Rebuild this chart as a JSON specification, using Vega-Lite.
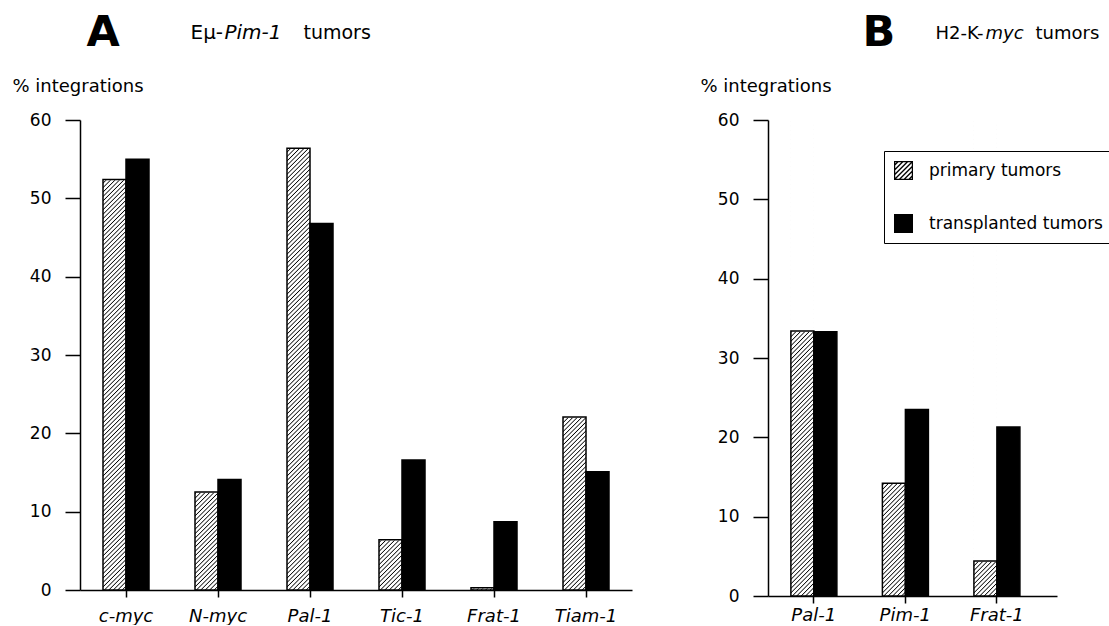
{
"$schema":"https://vega.github.io/schema/vega-lite/v6.json",
"background":"white",
"padding":{"left":12,"top":11,"right":0,"bottom":0},
"bounds":"flush",
"spacing":136,
"datasets":{
"a":[
{"gene":"c-myc","type":"primary tumors","value":52.4},{"gene":"c-myc","type":"transplanted tumors","value":55.0},
{"gene":"N-myc","type":"primary tumors","value":12.5},{"gene":"N-myc","type":"transplanted tumors","value":14.1},
{"gene":"Pal-1","type":"primary tumors","value":56.4},{"gene":"Pal-1","type":"transplanted tumors","value":46.8},
{"gene":"Tic-1","type":"primary tumors","value":6.4},{"gene":"Tic-1","type":"transplanted tumors","value":16.6},
{"gene":"Frat-1","type":"primary tumors","value":0.3},{"gene":"Frat-1","type":"transplanted tumors","value":8.7},
{"gene":"Tiam-1","type":"primary tumors","value":22.1},{"gene":"Tiam-1","type":"transplanted tumors","value":15.1}],
"b":[
{"gene":"Pal-1","type":"primary tumors","value":33.4},{"gene":"Pal-1","type":"transplanted tumors","value":33.3},
{"gene":"Pim-1","type":"primary tumors","value":14.2},{"gene":"Pim-1","type":"transplanted tumors","value":23.5},
{"gene":"Frat-1","type":"primary tumors","value":4.4},{"gene":"Frat-1","type":"transplanted tumors","value":21.3}]
},
"hconcat":[
{
"width":552,"height":470,
"data":{"name":"a"},
"resolve":{"axis":{"x":"independent","y":"independent"}},
"layer":[
{"transform":[{"filter":"datum.type == 'primary tumors'"}],
"mark":{"type":"bar","fill":{"gradient":"linear","x1":0,"y1":0,"x2":0.0512,"y2":1.0464,"stops":[
{"offset":0,"color":"#fff"},{"offset":0.0022,"color":"#000"},{"offset":0.0044,"color":"#fff"},
{"offset":0.009,"color":"#fff"},{"offset":0.0112,"color":"#000"},{"offset":0.0134,"color":"#fff"},
{"offset":0.018,"color":"#fff"},{"offset":0.0202,"color":"#000"},{"offset":0.0224,"color":"#fff"},
{"offset":0.027,"color":"#fff"},{"offset":0.0292,"color":"#000"},{"offset":0.0314,"color":"#fff"},
{"offset":0.036,"color":"#fff"},{"offset":0.0382,"color":"#000"},{"offset":0.0404,"color":"#fff"},
{"offset":0.045,"color":"#fff"},{"offset":0.0472,"color":"#000"},{"offset":0.0494,"color":"#fff"},
{"offset":0.054,"color":"#fff"},{"offset":0.0562,"color":"#000"},{"offset":0.0584,"color":"#fff"},
{"offset":0.063,"color":"#fff"},{"offset":0.0652,"color":"#000"},{"offset":0.0674,"color":"#fff"},
{"offset":0.072,"color":"#fff"},{"offset":0.0742,"color":"#000"},{"offset":0.0764,"color":"#fff"},
{"offset":0.081,"color":"#fff"},{"offset":0.0832,"color":"#000"},{"offset":0.0854,"color":"#fff"},
{"offset":0.09,"color":"#fff"},{"offset":0.0922,"color":"#000"},{"offset":0.0944,"color":"#fff"},
{"offset":0.099,"color":"#fff"},{"offset":0.1012,"color":"#000"},{"offset":0.1034,"color":"#fff"},
{"offset":0.108,"color":"#fff"},{"offset":0.1102,"color":"#000"},{"offset":0.1124,"color":"#fff"},
{"offset":0.117,"color":"#fff"},{"offset":0.1192,"color":"#000"},{"offset":0.1214,"color":"#fff"},
{"offset":0.126,"color":"#fff"},{"offset":0.1282,"color":"#000"},{"offset":0.1304,"color":"#fff"},
{"offset":0.135,"color":"#fff"},{"offset":0.1372,"color":"#000"},{"offset":0.1394,"color":"#fff"},
{"offset":0.144,"color":"#fff"},{"offset":0.1462,"color":"#000"},{"offset":0.1484,"color":"#fff"},
{"offset":0.153,"color":"#fff"},{"offset":0.1552,"color":"#000"},{"offset":0.1574,"color":"#fff"},
{"offset":0.162,"color":"#fff"},{"offset":0.1642,"color":"#000"},{"offset":0.1664,"color":"#fff"},
{"offset":0.171,"color":"#fff"},{"offset":0.1732,"color":"#000"},{"offset":0.1754,"color":"#fff"},
{"offset":0.18,"color":"#fff"},{"offset":0.1822,"color":"#000"},{"offset":0.1844,"color":"#fff"},
{"offset":0.189,"color":"#fff"},{"offset":0.1912,"color":"#000"},{"offset":0.1934,"color":"#fff"},
{"offset":0.198,"color":"#fff"},{"offset":0.2002,"color":"#000"},{"offset":0.2024,"color":"#fff"},
{"offset":0.207,"color":"#fff"},{"offset":0.2092,"color":"#000"},{"offset":0.2114,"color":"#fff"},
{"offset":0.216,"color":"#fff"},{"offset":0.2182,"color":"#000"},{"offset":0.2204,"color":"#fff"},
{"offset":0.225,"color":"#fff"},{"offset":0.2272,"color":"#000"},{"offset":0.2294,"color":"#fff"},
{"offset":0.234,"color":"#fff"},{"offset":0.2362,"color":"#000"},{"offset":0.2384,"color":"#fff"},
{"offset":0.243,"color":"#fff"},{"offset":0.2452,"color":"#000"},{"offset":0.2474,"color":"#fff"},
{"offset":0.252,"color":"#fff"},{"offset":0.2542,"color":"#000"},{"offset":0.2564,"color":"#fff"},
{"offset":0.261,"color":"#fff"},{"offset":0.2632,"color":"#000"},{"offset":0.2654,"color":"#fff"},
{"offset":0.27,"color":"#fff"},{"offset":0.2722,"color":"#000"},{"offset":0.2744,"color":"#fff"},
{"offset":0.279,"color":"#fff"},{"offset":0.2812,"color":"#000"},{"offset":0.2834,"color":"#fff"},
{"offset":0.288,"color":"#fff"},{"offset":0.2902,"color":"#000"},{"offset":0.2924,"color":"#fff"},
{"offset":0.297,"color":"#fff"},{"offset":0.2992,"color":"#000"},{"offset":0.3014,"color":"#fff"},
{"offset":0.306,"color":"#fff"},{"offset":0.3082,"color":"#000"},{"offset":0.3104,"color":"#fff"},
{"offset":0.315,"color":"#fff"},{"offset":0.3172,"color":"#000"},{"offset":0.3194,"color":"#fff"},
{"offset":0.324,"color":"#fff"},{"offset":0.3262,"color":"#000"},{"offset":0.3284,"color":"#fff"},
{"offset":0.333,"color":"#fff"},{"offset":0.3352,"color":"#000"},{"offset":0.3374,"color":"#fff"},
{"offset":0.342,"color":"#fff"},{"offset":0.3442,"color":"#000"},{"offset":0.3464,"color":"#fff"},
{"offset":0.351,"color":"#fff"},{"offset":0.3532,"color":"#000"},{"offset":0.3554,"color":"#fff"},
{"offset":0.36,"color":"#fff"},{"offset":0.3622,"color":"#000"},{"offset":0.3644,"color":"#fff"},
{"offset":0.369,"color":"#fff"},{"offset":0.3712,"color":"#000"},{"offset":0.3734,"color":"#fff"},
{"offset":0.378,"color":"#fff"},{"offset":0.3802,"color":"#000"},{"offset":0.3824,"color":"#fff"},
{"offset":0.387,"color":"#fff"},{"offset":0.3892,"color":"#000"},{"offset":0.3914,"color":"#fff"},
{"offset":0.396,"color":"#fff"},{"offset":0.3982,"color":"#000"},{"offset":0.4004,"color":"#fff"},
{"offset":0.405,"color":"#fff"},{"offset":0.4072,"color":"#000"},{"offset":0.4094,"color":"#fff"},
{"offset":0.414,"color":"#fff"},{"offset":0.4162,"color":"#000"},{"offset":0.4184,"color":"#fff"},
{"offset":0.423,"color":"#fff"},{"offset":0.4252,"color":"#000"},{"offset":0.4274,"color":"#fff"},
{"offset":0.432,"color":"#fff"},{"offset":0.4342,"color":"#000"},{"offset":0.4364,"color":"#fff"},
{"offset":0.441,"color":"#fff"},{"offset":0.4432,"color":"#000"},{"offset":0.4454,"color":"#fff"},
{"offset":0.45,"color":"#fff"},{"offset":0.4522,"color":"#000"},{"offset":0.4544,"color":"#fff"},
{"offset":0.459,"color":"#fff"},{"offset":0.4612,"color":"#000"},{"offset":0.4634,"color":"#fff"},
{"offset":0.468,"color":"#fff"},{"offset":0.4702,"color":"#000"},{"offset":0.4724,"color":"#fff"},
{"offset":0.477,"color":"#fff"},{"offset":0.4792,"color":"#000"},{"offset":0.4814,"color":"#fff"},
{"offset":0.486,"color":"#fff"},{"offset":0.4882,"color":"#000"},{"offset":0.4904,"color":"#fff"},
{"offset":0.495,"color":"#fff"},{"offset":0.4972,"color":"#000"},{"offset":0.4994,"color":"#fff"},
{"offset":0.504,"color":"#fff"},{"offset":0.5062,"color":"#000"},{"offset":0.5084,"color":"#fff"},
{"offset":0.513,"color":"#fff"},{"offset":0.5152,"color":"#000"},{"offset":0.5174,"color":"#fff"},
{"offset":0.522,"color":"#fff"},{"offset":0.5242,"color":"#000"},{"offset":0.5264,"color":"#fff"},
{"offset":0.531,"color":"#fff"},{"offset":0.5332,"color":"#000"},{"offset":0.5354,"color":"#fff"},
{"offset":0.54,"color":"#fff"},{"offset":0.5422,"color":"#000"},{"offset":0.5444,"color":"#fff"},
{"offset":0.549,"color":"#fff"},{"offset":0.5512,"color":"#000"},{"offset":0.5534,"color":"#fff"},
{"offset":0.558,"color":"#fff"},{"offset":0.5602,"color":"#000"},{"offset":0.5624,"color":"#fff"},
{"offset":0.567,"color":"#fff"},{"offset":0.5692,"color":"#000"},{"offset":0.5714,"color":"#fff"},
{"offset":0.576,"color":"#fff"},{"offset":0.5782,"color":"#000"},{"offset":0.5804,"color":"#fff"},
{"offset":0.585,"color":"#fff"},{"offset":0.5872,"color":"#000"},{"offset":0.5894,"color":"#fff"},
{"offset":0.594,"color":"#fff"},{"offset":0.5962,"color":"#000"},{"offset":0.5984,"color":"#fff"},
{"offset":0.603,"color":"#fff"},{"offset":0.6052,"color":"#000"},{"offset":0.6074,"color":"#fff"},
{"offset":0.612,"color":"#fff"},{"offset":0.6142,"color":"#000"},{"offset":0.6164,"color":"#fff"},
{"offset":0.621,"color":"#fff"},{"offset":0.6232,"color":"#000"},{"offset":0.6254,"color":"#fff"},
{"offset":0.63,"color":"#fff"},{"offset":0.6322,"color":"#000"},{"offset":0.6344,"color":"#fff"},
{"offset":0.639,"color":"#fff"},{"offset":0.6412,"color":"#000"},{"offset":0.6434,"color":"#fff"},
{"offset":0.648,"color":"#fff"},{"offset":0.6502,"color":"#000"},{"offset":0.6524,"color":"#fff"},
{"offset":0.657,"color":"#fff"},{"offset":0.6592,"color":"#000"},{"offset":0.6614,"color":"#fff"},
{"offset":0.666,"color":"#fff"},{"offset":0.6682,"color":"#000"},{"offset":0.6704,"color":"#fff"},
{"offset":0.675,"color":"#fff"},{"offset":0.6772,"color":"#000"},{"offset":0.6794,"color":"#fff"},
{"offset":0.684,"color":"#fff"},{"offset":0.6862,"color":"#000"},{"offset":0.6884,"color":"#fff"},
{"offset":0.693,"color":"#fff"},{"offset":0.6952,"color":"#000"},{"offset":0.6974,"color":"#fff"},
{"offset":0.702,"color":"#fff"},{"offset":0.7042,"color":"#000"},{"offset":0.7064,"color":"#fff"},
{"offset":0.711,"color":"#fff"},{"offset":0.7132,"color":"#000"},{"offset":0.7154,"color":"#fff"},
{"offset":0.72,"color":"#fff"},{"offset":0.7222,"color":"#000"},{"offset":0.7244,"color":"#fff"},
{"offset":0.729,"color":"#fff"},{"offset":0.7312,"color":"#000"},{"offset":0.7334,"color":"#fff"},
{"offset":0.738,"color":"#fff"},{"offset":0.7402,"color":"#000"},{"offset":0.7424,"color":"#fff"},
{"offset":0.747,"color":"#fff"},{"offset":0.7492,"color":"#000"},{"offset":0.7514,"color":"#fff"},
{"offset":0.756,"color":"#fff"},{"offset":0.7582,"color":"#000"},{"offset":0.7604,"color":"#fff"},
{"offset":0.765,"color":"#fff"},{"offset":0.7672,"color":"#000"},{"offset":0.7694,"color":"#fff"},
{"offset":0.774,"color":"#fff"},{"offset":0.7762,"color":"#000"},{"offset":0.7784,"color":"#fff"},
{"offset":0.783,"color":"#fff"},{"offset":0.7852,"color":"#000"},{"offset":0.7874,"color":"#fff"},
{"offset":0.792,"color":"#fff"},{"offset":0.7942,"color":"#000"},{"offset":0.7964,"color":"#fff"},
{"offset":0.801,"color":"#fff"},{"offset":0.8032,"color":"#000"},{"offset":0.8054,"color":"#fff"},
{"offset":0.81,"color":"#fff"},{"offset":0.8122,"color":"#000"},{"offset":0.8144,"color":"#fff"},
{"offset":0.819,"color":"#fff"},{"offset":0.8212,"color":"#000"},{"offset":0.8234,"color":"#fff"},
{"offset":0.828,"color":"#fff"},{"offset":0.8302,"color":"#000"},{"offset":0.8324,"color":"#fff"},
{"offset":0.837,"color":"#fff"},{"offset":0.8392,"color":"#000"},{"offset":0.8414,"color":"#fff"},
{"offset":0.846,"color":"#fff"},{"offset":0.8482,"color":"#000"},{"offset":0.8504,"color":"#fff"},
{"offset":0.855,"color":"#fff"},{"offset":0.8572,"color":"#000"},{"offset":0.8594,"color":"#fff"},
{"offset":0.864,"color":"#fff"},{"offset":0.8662,"color":"#000"},{"offset":0.8684,"color":"#fff"},
{"offset":0.873,"color":"#fff"},{"offset":0.8752,"color":"#000"},{"offset":0.8774,"color":"#fff"},
{"offset":0.882,"color":"#fff"},{"offset":0.8842,"color":"#000"},{"offset":0.8864,"color":"#fff"},
{"offset":0.891,"color":"#fff"},{"offset":0.8932,"color":"#000"},{"offset":0.8954,"color":"#fff"},
{"offset":0.9,"color":"#fff"},{"offset":0.9022,"color":"#000"},{"offset":0.9044,"color":"#fff"},
{"offset":0.909,"color":"#fff"},{"offset":0.9112,"color":"#000"},{"offset":0.9134,"color":"#fff"},
{"offset":0.918,"color":"#fff"},{"offset":0.9202,"color":"#000"},{"offset":0.9224,"color":"#fff"},
{"offset":0.927,"color":"#fff"},{"offset":0.9292,"color":"#000"},{"offset":0.9314,"color":"#fff"},
{"offset":0.936,"color":"#fff"},{"offset":0.9382,"color":"#000"},{"offset":0.9404,"color":"#fff"},
{"offset":0.945,"color":"#fff"},{"offset":0.9472,"color":"#000"},{"offset":0.9494,"color":"#fff"},
{"offset":0.954,"color":"#fff"},{"offset":0.9562,"color":"#000"},{"offset":0.9584,"color":"#fff"},
{"offset":0.963,"color":"#fff"},{"offset":0.9652,"color":"#000"},{"offset":0.9674,"color":"#fff"},
{"offset":0.972,"color":"#fff"},{"offset":0.9742,"color":"#000"},{"offset":0.9764,"color":"#fff"},
{"offset":0.981,"color":"#fff"},{"offset":0.9832,"color":"#000"},{"offset":0.9854,"color":"#fff"},
{"offset":0.99,"color":"#fff"},{"offset":0.9922,"color":"#000"},{"offset":0.9944,"color":"#fff"}]}},
"encoding":{
"x":{"field":"gene","type":"nominal","sort":null,"scale":{"paddingInner":0.5,"paddingOuter":0.25},
"axis":{"orient":"bottom","tickSize":7,"labelFontSize":18,"labelFontStyle":"italic","labelPadding":10,"labelAngle":0,
"title":"A","titleFontSize":43,"titleFontWeight":"bold","titleX":6,"titleY":-579,"titleAlign":"left","titleBaseline":"top"}},
"xOffset":{"field":"type","type":"nominal","scale":{"domain":["primary tumors","transplanted tumors"],"paddingInner":0,"paddingOuter":0}},
"y":{"datum":60,"type":"quantitative","scale":{"domain":[0,60],"nice":false},
"axis":{"values":[0,10,20,30,40,50,60],"tickSize":15,"labelFontSize":17,"labelPadding":14,
"title":"% integrations","titleFontSize":18,"titleAngle":0,"titleAlign":"left","titleBaseline":"alphabetic","titleX":-68,"titleY":-29}},
"y2":{"datum":0}}},
{"transform":[{"filter":"datum.type == 'primary tumors'"}],
"mark":{"type":"bar","fill":"white","stroke":"white","strokeWidth":1.5},
"encoding":{
"x":{"field":"gene","type":"nominal","sort":null,
"axis":{"orient":"top","domain":false,"ticks":false,"labels":false,"title":"Eμ-","titleFontSize":20,"titleX":110,"titleY":-82,"titleAlign":"left","titleBaseline":"alphabetic"}},
"xOffset":{"field":"type","type":"nominal"},
"y":{"field":"value","type":"quantitative","axis":null},
"y2":{"datum":60}}},
{"mark":{"type":"bar","stroke":"black","strokeWidth":1.5},
"encoding":{
"x":{"field":"gene","type":"nominal","sort":null,
"axis":{"orient":"top","domain":false,"ticks":false,"labels":false,"title":"Pim-1","titleFontStyle":"italic","titleFontSize":20,"titleX":144,"titleY":-82,"titleAlign":"left","titleBaseline":"alphabetic"}},
"xOffset":{"field":"type","type":"nominal"},
"y":{"field":"value","type":"quantitative",
"axis":{"orient":"left","domain":false,"ticks":false,"labels":false,"title":"tumors","titleFontSize":19,"titleAngle":0,"titleX":223,"titleY":-82,"titleAlign":"left","titleBaseline":"alphabetic"}},
"fill":{"condition":{"test":"datum.type == 'transplanted tumors'","value":"black"},"value":"transparent"}}}
]
},
{
"width":289,"height":476,
"data":{"name":"b"},
"resolve":{"axis":{"x":"independent","y":"independent"}},
"layer":[
{"transform":[{"filter":"datum.type == 'primary tumors'"}],
"mark":{"type":"bar","fill":{"gradient":"linear","x1":0,"y1":0,"x2":0.0512,"y2":1.0464,"stops":[
{"offset":0,"color":"#fff"},{"offset":0.0022,"color":"#000"},{"offset":0.0044,"color":"#fff"},
{"offset":0.009,"color":"#fff"},{"offset":0.0112,"color":"#000"},{"offset":0.0134,"color":"#fff"},
{"offset":0.018,"color":"#fff"},{"offset":0.0202,"color":"#000"},{"offset":0.0224,"color":"#fff"},
{"offset":0.027,"color":"#fff"},{"offset":0.0292,"color":"#000"},{"offset":0.0314,"color":"#fff"},
{"offset":0.036,"color":"#fff"},{"offset":0.0382,"color":"#000"},{"offset":0.0404,"color":"#fff"},
{"offset":0.045,"color":"#fff"},{"offset":0.0472,"color":"#000"},{"offset":0.0494,"color":"#fff"},
{"offset":0.054,"color":"#fff"},{"offset":0.0562,"color":"#000"},{"offset":0.0584,"color":"#fff"},
{"offset":0.063,"color":"#fff"},{"offset":0.0652,"color":"#000"},{"offset":0.0674,"color":"#fff"},
{"offset":0.072,"color":"#fff"},{"offset":0.0742,"color":"#000"},{"offset":0.0764,"color":"#fff"},
{"offset":0.081,"color":"#fff"},{"offset":0.0832,"color":"#000"},{"offset":0.0854,"color":"#fff"},
{"offset":0.09,"color":"#fff"},{"offset":0.0922,"color":"#000"},{"offset":0.0944,"color":"#fff"},
{"offset":0.099,"color":"#fff"},{"offset":0.1012,"color":"#000"},{"offset":0.1034,"color":"#fff"},
{"offset":0.108,"color":"#fff"},{"offset":0.1102,"color":"#000"},{"offset":0.1124,"color":"#fff"},
{"offset":0.117,"color":"#fff"},{"offset":0.1192,"color":"#000"},{"offset":0.1214,"color":"#fff"},
{"offset":0.126,"color":"#fff"},{"offset":0.1282,"color":"#000"},{"offset":0.1304,"color":"#fff"},
{"offset":0.135,"color":"#fff"},{"offset":0.1372,"color":"#000"},{"offset":0.1394,"color":"#fff"},
{"offset":0.144,"color":"#fff"},{"offset":0.1462,"color":"#000"},{"offset":0.1484,"color":"#fff"},
{"offset":0.153,"color":"#fff"},{"offset":0.1552,"color":"#000"},{"offset":0.1574,"color":"#fff"},
{"offset":0.162,"color":"#fff"},{"offset":0.1642,"color":"#000"},{"offset":0.1664,"color":"#fff"},
{"offset":0.171,"color":"#fff"},{"offset":0.1732,"color":"#000"},{"offset":0.1754,"color":"#fff"},
{"offset":0.18,"color":"#fff"},{"offset":0.1822,"color":"#000"},{"offset":0.1844,"color":"#fff"},
{"offset":0.189,"color":"#fff"},{"offset":0.1912,"color":"#000"},{"offset":0.1934,"color":"#fff"},
{"offset":0.198,"color":"#fff"},{"offset":0.2002,"color":"#000"},{"offset":0.2024,"color":"#fff"},
{"offset":0.207,"color":"#fff"},{"offset":0.2092,"color":"#000"},{"offset":0.2114,"color":"#fff"},
{"offset":0.216,"color":"#fff"},{"offset":0.2182,"color":"#000"},{"offset":0.2204,"color":"#fff"},
{"offset":0.225,"color":"#fff"},{"offset":0.2272,"color":"#000"},{"offset":0.2294,"color":"#fff"},
{"offset":0.234,"color":"#fff"},{"offset":0.2362,"color":"#000"},{"offset":0.2384,"color":"#fff"},
{"offset":0.243,"color":"#fff"},{"offset":0.2452,"color":"#000"},{"offset":0.2474,"color":"#fff"},
{"offset":0.252,"color":"#fff"},{"offset":0.2542,"color":"#000"},{"offset":0.2564,"color":"#fff"},
{"offset":0.261,"color":"#fff"},{"offset":0.2632,"color":"#000"},{"offset":0.2654,"color":"#fff"},
{"offset":0.27,"color":"#fff"},{"offset":0.2722,"color":"#000"},{"offset":0.2744,"color":"#fff"},
{"offset":0.279,"color":"#fff"},{"offset":0.2812,"color":"#000"},{"offset":0.2834,"color":"#fff"},
{"offset":0.288,"color":"#fff"},{"offset":0.2902,"color":"#000"},{"offset":0.2924,"color":"#fff"},
{"offset":0.297,"color":"#fff"},{"offset":0.2992,"color":"#000"},{"offset":0.3014,"color":"#fff"},
{"offset":0.306,"color":"#fff"},{"offset":0.3082,"color":"#000"},{"offset":0.3104,"color":"#fff"},
{"offset":0.315,"color":"#fff"},{"offset":0.3172,"color":"#000"},{"offset":0.3194,"color":"#fff"},
{"offset":0.324,"color":"#fff"},{"offset":0.3262,"color":"#000"},{"offset":0.3284,"color":"#fff"},
{"offset":0.333,"color":"#fff"},{"offset":0.3352,"color":"#000"},{"offset":0.3374,"color":"#fff"},
{"offset":0.342,"color":"#fff"},{"offset":0.3442,"color":"#000"},{"offset":0.3464,"color":"#fff"},
{"offset":0.351,"color":"#fff"},{"offset":0.3532,"color":"#000"},{"offset":0.3554,"color":"#fff"},
{"offset":0.36,"color":"#fff"},{"offset":0.3622,"color":"#000"},{"offset":0.3644,"color":"#fff"},
{"offset":0.369,"color":"#fff"},{"offset":0.3712,"color":"#000"},{"offset":0.3734,"color":"#fff"},
{"offset":0.378,"color":"#fff"},{"offset":0.3802,"color":"#000"},{"offset":0.3824,"color":"#fff"},
{"offset":0.387,"color":"#fff"},{"offset":0.3892,"color":"#000"},{"offset":0.3914,"color":"#fff"},
{"offset":0.396,"color":"#fff"},{"offset":0.3982,"color":"#000"},{"offset":0.4004,"color":"#fff"},
{"offset":0.405,"color":"#fff"},{"offset":0.4072,"color":"#000"},{"offset":0.4094,"color":"#fff"},
{"offset":0.414,"color":"#fff"},{"offset":0.4162,"color":"#000"},{"offset":0.4184,"color":"#fff"},
{"offset":0.423,"color":"#fff"},{"offset":0.4252,"color":"#000"},{"offset":0.4274,"color":"#fff"},
{"offset":0.432,"color":"#fff"},{"offset":0.4342,"color":"#000"},{"offset":0.4364,"color":"#fff"},
{"offset":0.441,"color":"#fff"},{"offset":0.4432,"color":"#000"},{"offset":0.4454,"color":"#fff"},
{"offset":0.45,"color":"#fff"},{"offset":0.4522,"color":"#000"},{"offset":0.4544,"color":"#fff"},
{"offset":0.459,"color":"#fff"},{"offset":0.4612,"color":"#000"},{"offset":0.4634,"color":"#fff"},
{"offset":0.468,"color":"#fff"},{"offset":0.4702,"color":"#000"},{"offset":0.4724,"color":"#fff"},
{"offset":0.477,"color":"#fff"},{"offset":0.4792,"color":"#000"},{"offset":0.4814,"color":"#fff"},
{"offset":0.486,"color":"#fff"},{"offset":0.4882,"color":"#000"},{"offset":0.4904,"color":"#fff"},
{"offset":0.495,"color":"#fff"},{"offset":0.4972,"color":"#000"},{"offset":0.4994,"color":"#fff"},
{"offset":0.504,"color":"#fff"},{"offset":0.5062,"color":"#000"},{"offset":0.5084,"color":"#fff"},
{"offset":0.513,"color":"#fff"},{"offset":0.5152,"color":"#000"},{"offset":0.5174,"color":"#fff"},
{"offset":0.522,"color":"#fff"},{"offset":0.5242,"color":"#000"},{"offset":0.5264,"color":"#fff"},
{"offset":0.531,"color":"#fff"},{"offset":0.5332,"color":"#000"},{"offset":0.5354,"color":"#fff"},
{"offset":0.54,"color":"#fff"},{"offset":0.5422,"color":"#000"},{"offset":0.5444,"color":"#fff"},
{"offset":0.549,"color":"#fff"},{"offset":0.5512,"color":"#000"},{"offset":0.5534,"color":"#fff"},
{"offset":0.558,"color":"#fff"},{"offset":0.5602,"color":"#000"},{"offset":0.5624,"color":"#fff"},
{"offset":0.567,"color":"#fff"},{"offset":0.5692,"color":"#000"},{"offset":0.5714,"color":"#fff"},
{"offset":0.576,"color":"#fff"},{"offset":0.5782,"color":"#000"},{"offset":0.5804,"color":"#fff"},
{"offset":0.585,"color":"#fff"},{"offset":0.5872,"color":"#000"},{"offset":0.5894,"color":"#fff"},
{"offset":0.594,"color":"#fff"},{"offset":0.5962,"color":"#000"},{"offset":0.5984,"color":"#fff"},
{"offset":0.603,"color":"#fff"},{"offset":0.6052,"color":"#000"},{"offset":0.6074,"color":"#fff"},
{"offset":0.612,"color":"#fff"},{"offset":0.6142,"color":"#000"},{"offset":0.6164,"color":"#fff"},
{"offset":0.621,"color":"#fff"},{"offset":0.6232,"color":"#000"},{"offset":0.6254,"color":"#fff"},
{"offset":0.63,"color":"#fff"},{"offset":0.6322,"color":"#000"},{"offset":0.6344,"color":"#fff"},
{"offset":0.639,"color":"#fff"},{"offset":0.6412,"color":"#000"},{"offset":0.6434,"color":"#fff"},
{"offset":0.648,"color":"#fff"},{"offset":0.6502,"color":"#000"},{"offset":0.6524,"color":"#fff"},
{"offset":0.657,"color":"#fff"},{"offset":0.6592,"color":"#000"},{"offset":0.6614,"color":"#fff"},
{"offset":0.666,"color":"#fff"},{"offset":0.6682,"color":"#000"},{"offset":0.6704,"color":"#fff"},
{"offset":0.675,"color":"#fff"},{"offset":0.6772,"color":"#000"},{"offset":0.6794,"color":"#fff"},
{"offset":0.684,"color":"#fff"},{"offset":0.6862,"color":"#000"},{"offset":0.6884,"color":"#fff"},
{"offset":0.693,"color":"#fff"},{"offset":0.6952,"color":"#000"},{"offset":0.6974,"color":"#fff"},
{"offset":0.702,"color":"#fff"},{"offset":0.7042,"color":"#000"},{"offset":0.7064,"color":"#fff"},
{"offset":0.711,"color":"#fff"},{"offset":0.7132,"color":"#000"},{"offset":0.7154,"color":"#fff"},
{"offset":0.72,"color":"#fff"},{"offset":0.7222,"color":"#000"},{"offset":0.7244,"color":"#fff"},
{"offset":0.729,"color":"#fff"},{"offset":0.7312,"color":"#000"},{"offset":0.7334,"color":"#fff"},
{"offset":0.738,"color":"#fff"},{"offset":0.7402,"color":"#000"},{"offset":0.7424,"color":"#fff"},
{"offset":0.747,"color":"#fff"},{"offset":0.7492,"color":"#000"},{"offset":0.7514,"color":"#fff"},
{"offset":0.756,"color":"#fff"},{"offset":0.7582,"color":"#000"},{"offset":0.7604,"color":"#fff"},
{"offset":0.765,"color":"#fff"},{"offset":0.7672,"color":"#000"},{"offset":0.7694,"color":"#fff"},
{"offset":0.774,"color":"#fff"},{"offset":0.7762,"color":"#000"},{"offset":0.7784,"color":"#fff"},
{"offset":0.783,"color":"#fff"},{"offset":0.7852,"color":"#000"},{"offset":0.7874,"color":"#fff"},
{"offset":0.792,"color":"#fff"},{"offset":0.7942,"color":"#000"},{"offset":0.7964,"color":"#fff"},
{"offset":0.801,"color":"#fff"},{"offset":0.8032,"color":"#000"},{"offset":0.8054,"color":"#fff"},
{"offset":0.81,"color":"#fff"},{"offset":0.8122,"color":"#000"},{"offset":0.8144,"color":"#fff"},
{"offset":0.819,"color":"#fff"},{"offset":0.8212,"color":"#000"},{"offset":0.8234,"color":"#fff"},
{"offset":0.828,"color":"#fff"},{"offset":0.8302,"color":"#000"},{"offset":0.8324,"color":"#fff"},
{"offset":0.837,"color":"#fff"},{"offset":0.8392,"color":"#000"},{"offset":0.8414,"color":"#fff"},
{"offset":0.846,"color":"#fff"},{"offset":0.8482,"color":"#000"},{"offset":0.8504,"color":"#fff"},
{"offset":0.855,"color":"#fff"},{"offset":0.8572,"color":"#000"},{"offset":0.8594,"color":"#fff"},
{"offset":0.864,"color":"#fff"},{"offset":0.8662,"color":"#000"},{"offset":0.8684,"color":"#fff"},
{"offset":0.873,"color":"#fff"},{"offset":0.8752,"color":"#000"},{"offset":0.8774,"color":"#fff"},
{"offset":0.882,"color":"#fff"},{"offset":0.8842,"color":"#000"},{"offset":0.8864,"color":"#fff"},
{"offset":0.891,"color":"#fff"},{"offset":0.8932,"color":"#000"},{"offset":0.8954,"color":"#fff"},
{"offset":0.9,"color":"#fff"},{"offset":0.9022,"color":"#000"},{"offset":0.9044,"color":"#fff"},
{"offset":0.909,"color":"#fff"},{"offset":0.9112,"color":"#000"},{"offset":0.9134,"color":"#fff"},
{"offset":0.918,"color":"#fff"},{"offset":0.9202,"color":"#000"},{"offset":0.9224,"color":"#fff"},
{"offset":0.927,"color":"#fff"},{"offset":0.9292,"color":"#000"},{"offset":0.9314,"color":"#fff"},
{"offset":0.936,"color":"#fff"},{"offset":0.9382,"color":"#000"},{"offset":0.9404,"color":"#fff"},
{"offset":0.945,"color":"#fff"},{"offset":0.9472,"color":"#000"},{"offset":0.9494,"color":"#fff"},
{"offset":0.954,"color":"#fff"},{"offset":0.9562,"color":"#000"},{"offset":0.9584,"color":"#fff"},
{"offset":0.963,"color":"#fff"},{"offset":0.9652,"color":"#000"},{"offset":0.9674,"color":"#fff"},
{"offset":0.972,"color":"#fff"},{"offset":0.9742,"color":"#000"},{"offset":0.9764,"color":"#fff"},
{"offset":0.981,"color":"#fff"},{"offset":0.9832,"color":"#000"},{"offset":0.9854,"color":"#fff"},
{"offset":0.99,"color":"#fff"},{"offset":0.9922,"color":"#000"},{"offset":0.9944,"color":"#fff"}]}},
"encoding":{
"x":{"field":"gene","type":"nominal","sort":null,"scale":{"paddingInner":0.5,"paddingOuter":0.329,"align":0.38},
"axis":{"orient":"bottom","tickSize":7,"labelFontSize":18,"labelFontStyle":"italic","labelPadding":3,"labelAngle":0,
"title":"B","titleFontSize":43,"titleFontWeight":"bold","titleX":94,"titleY":-585,"titleAlign":"left","titleBaseline":"top"}},
"xOffset":{"field":"type","type":"nominal","scale":{"domain":["primary tumors","transplanted tumors"],"paddingInner":0,"paddingOuter":0}},
"y":{"datum":60,"type":"quantitative","scale":{"domain":[0,60],"nice":false},
"axis":{"values":[0,10,20,30,40,50,60],"tickSize":15,"labelFontSize":17,"labelPadding":14,
"title":"% integrations","titleFontSize":18,"titleAngle":0,"titleAlign":"left","titleBaseline":"alphabetic","titleX":-68,"titleY":-29}},
"y2":{"datum":0}}},
{"transform":[{"filter":"datum.type == 'primary tumors'"}],
"mark":{"type":"bar","fill":"white","stroke":"white","strokeWidth":1.5},
"encoding":{
"x":{"field":"gene","type":"nominal","sort":null,
"axis":{"orient":"top","domain":false,"ticks":false,"labels":false,"title":"H2-K-","titleFontSize":18,"titleX":167,"titleY":-82,"titleAlign":"left","titleBaseline":"alphabetic"}},
"xOffset":{"field":"type","type":"nominal"},
"y":{"field":"value","type":"quantitative","axis":null},
"y2":{"datum":60}}},
{"mark":{"type":"bar","stroke":"black","strokeWidth":1.5},
"encoding":{
"x":{"field":"gene","type":"nominal","sort":null,
"axis":{"orient":"top","domain":false,"ticks":false,"labels":false,"title":"myc","titleFontStyle":"italic","titleFontSize":18,"titleX":217,"titleY":-82,"titleAlign":"left","titleBaseline":"alphabetic"}},
"xOffset":{"field":"type","type":"nominal"},
"y":{"field":"value","type":"quantitative",
"axis":{"orient":"left","domain":false,"ticks":false,"labels":false,"title":"tumors","titleFontSize":18,"titleAngle":0,"titleX":267,"titleY":-82,"titleAlign":"left","titleBaseline":"alphabetic"}},
"fill":{"condition":{"test":"datum.type == 'transplanted tumors'","value":"black"},"value":"transparent"}}},
{"mark":{"type":"point","opacity":0,"strokeWidth":0},
"encoding":{
"x":{"field":"gene","type":"nominal","sort":null,"axis":null},
"xOffset":{"field":"type","type":"nominal"},
"y":{"field":"value","type":"quantitative","axis":null},
"fill":{"field":"type","type":"nominal","scale":{"domain":["primary tumors","transplanted tumors"],"range":["black","black"]},
"legend":{"orient":"none","legendX":804,"legendY":31,"title":null,"strokeColor":"black","fillColor":"white","padding":10,
"symbolSize":361,"symbolStrokeWidth":0,"symbolOpacity":1,
"labelFont":"DejaVu Sans","labelFontSize":17,"labelColor":"black","labelOffset":16,"rowPadding":34,"labelLimit":0}},
"shape":{"field":"type","type":"nominal","scale":{"domain":["primary tumors","transplanted tumors"],"range":["M-1,-1H1V1H-1ZM-0.87,-0.87V0.87H0.87V-0.87ZM-1,-0.6L-0.6,-1L-0.4,-1L-1,-0.4ZM-1,-0.1L-0.1,-1L0.1,-1L-1,0.1ZM-1,0.4L0.4,-1L0.6,-1L-1,0.6ZM-1,0.9L0.9,-1L1,-1L1,-0.9L-0.9,1L-1,1ZM-0.6,1L1,-0.6L1,-0.4L-0.4,1ZM-0.1,1L1,-0.1L1,0.1L0.1,1ZM0.4,1L1,0.4L1,0.6L0.6,1Z","square"]},
"legend":{"orient":"none","legendX":804,"legendY":31,"title":null,"strokeColor":"black","fillColor":"white","padding":10,
"symbolSize":361,"symbolStrokeWidth":0,"symbolOpacity":1,
"labelFont":"DejaVu Sans","labelFontSize":17,"labelColor":"black","labelOffset":16,"rowPadding":34,"labelLimit":0}}}}
]
}
],
"config":{
"view":{"stroke":null},
"font":"DejaVu Sans",
"axis":{"grid":false,"domainColor":"black","domainWidth":1.5,"tickColor":"black","tickWidth":1.5,"labelColor":"black","titleColor":"black","labelFont":"DejaVu Sans","titleFont":"DejaVu Sans","titleFontWeight":"normal"}
}
}
